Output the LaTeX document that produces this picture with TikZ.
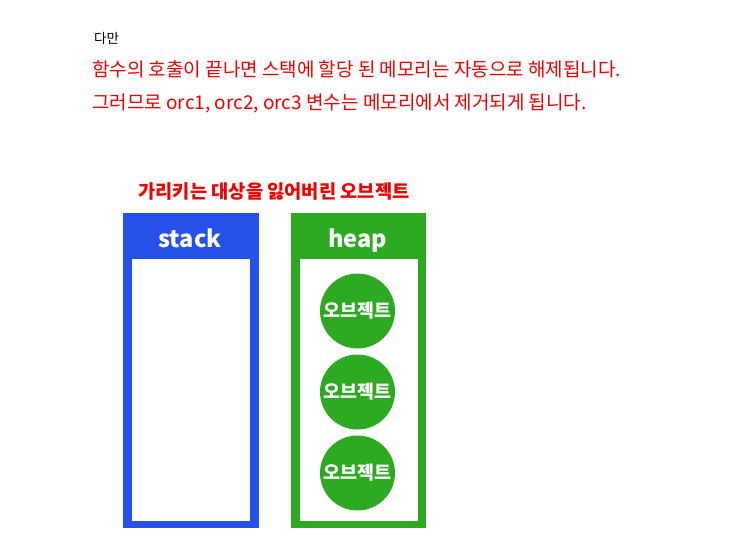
\documentclass[tikz,border=0pt]{standalone}
\usepackage{fontspec}
\setmainfont{Noto Sans CJK KR}
\definecolor{stackblue}{RGB}{38,80,232}
\definecolor{heapgreen}{RGB}{46,170,34}
\definecolor{txtred}{RGB}{240,0,0}
\begin{document}
\begin{tikzpicture}[x=1pt,y=-1pt,
  body/.style={anchor=west,inner sep=0pt,text=txtred,font=\fontsize{19}{21}\selectfont},
  obj/.style={circle,fill=heapgreen,minimum size=75pt,inner sep=0pt,text=white,font=\bfseries\fontsize{18.4}{20}\selectfont},
  boxtitle/.style={anchor=base,inner sep=0pt,text=white,font=\bfseries\fontsize{23.5}{25}\selectfont}]
\useasboundingbox (0,0) rectangle (752,543);
\node[anchor=west,inner sep=0pt,font=\fontsize{13.5}{15}\selectfont] (dm) at (94,38) {다만};
\node[body] (l1) at (92,69) {함수의 호출이 끝나면 스택에 할당 된 메모리는 자동으로 해제됩니다.};
\node[body] (l2) at (92,103) {그러므로 orc1, orc2, orc3 변수는 메모리에서 제거되게 됩니다.};
\node[inner sep=0pt,text=txtred,font=\bfseries\fontsize{18.7}{20}\selectfont] (title) at (274,192) {가리키는 대상을 잃어버린 오브젝트};
% stack
\fill[stackblue] (123,213) rectangle (259,528);
\fill[white] (132,259) rectangle (250,521);
\node[boxtitle] (st) at (190,247) {stack};
% heap
\fill[heapgreen] (291,213) rectangle (426,528);
\fill[white] (300,259) rectangle (418,521);
\node[boxtitle] (hp) at (357.5,247) {heap};
\node[obj] (o1) at (357.5,311) {오브젝트};
\node[obj] (o2) at (357.5,392) {오브젝트};
\node[obj] (o3) at (357.5,473) {오브젝트};
\end{tikzpicture}
\end{document}
